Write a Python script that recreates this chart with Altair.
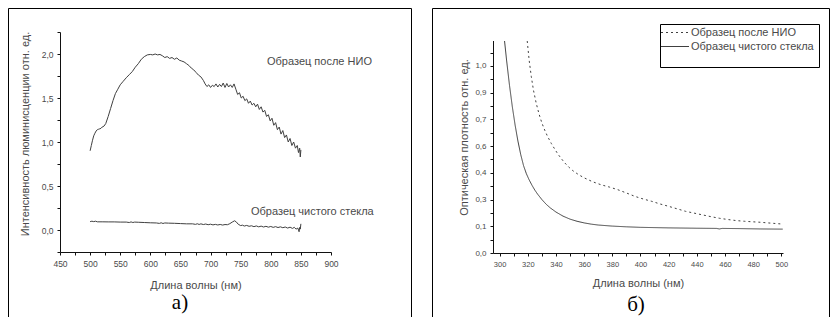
import altair as alt
import pandas as pd

FONT = "Liberation Sans"
SERIF = "Liberation Serif"
INK = "#404040"
TXT = "#4a4a4a"

series_names = ["Образец после НИО", "Образец чистого стекла"]

# ---------------- panel а) : luminescence ----------------
lum_after_nm = [500, 502, 504, 506, 508, 510, 512, 514, 516, 518, 520, 523, 526, 530, 534, 538, 542, 546, 550,
                555, 560, 565, 570, 575, 580, 585, 590, 595, 600, 604, 608, 612, 616, 620, 624, 628, 632, 636,
                640, 644, 648, 652, 656, 660, 664, 668, 672, 676, 680, 684, 688, 691, 694, 697, 700, 703, 706,
                709, 712, 715, 718, 721, 724, 727, 730, 733, 736, 739, 742, 745, 748, 751, 754, 757, 760, 763,
                766, 769, 772, 775, 778, 781, 784, 787, 790, 793, 796, 799, 802, 805, 808, 811, 814, 817, 820,
                823, 826, 829, 832, 835, 838, 841, 844, 846, 848, 849, 850]
lum_after_val = [0.90, 0.96, 1.02, 1.07, 1.10, 1.125, 1.14, 1.145, 1.15, 1.155, 1.17, 1.18, 1.21, 1.29, 1.38,
                 1.47, 1.55, 1.60, 1.65, 1.69, 1.73, 1.765, 1.80, 1.85, 1.89, 1.94, 1.97, 1.99, 1.995, 1.99,
                 2.00, 1.99, 1.995, 1.98, 1.96, 1.97, 1.95, 1.96, 1.94, 1.955, 1.93, 1.92, 1.91, 1.89, 1.87,
                 1.84, 1.82, 1.79, 1.76, 1.74, 1.70, 1.66, 1.63, 1.65, 1.62, 1.645, 1.63, 1.66, 1.625, 1.655,
                 1.63, 1.67, 1.62, 1.665, 1.625, 1.65, 1.62, 1.66, 1.60, 1.54, 1.56, 1.50, 1.52, 1.47, 1.49,
                 1.44, 1.465, 1.42, 1.44, 1.40, 1.43, 1.37, 1.40, 1.34, 1.36, 1.29, 1.31, 1.24, 1.27, 1.19,
                 1.22, 1.14, 1.17, 1.09, 1.13, 1.05, 1.08, 1.00, 1.04, 0.96, 1.00, 0.93, 0.96, 0.88, 0.93,
                 0.83, 0.91]

lum_glass_nm = [500, 503, 506, 509, 512, 520, 530, 540, 550, 560, 565, 568, 571, 574, 580, 590, 600, 610, 615,
                618, 621, 624, 630, 640, 650, 660, 670, 675, 678, 681, 684, 688, 692, 696, 700, 704, 708, 712,
                716, 720, 724, 728, 732, 736, 740, 743, 746, 750, 753, 756, 760, 764, 768, 772, 776, 780, 784,
                788, 792, 796, 800, 804, 808, 812, 816, 820, 824, 828, 832, 836, 839, 842, 845, 847, 848, 849,
                850]
lum_glass_val = [0.095, 0.10, 0.095, 0.10, 0.093, 0.093, 0.092, 0.092, 0.090, 0.090, 0.085, 0.092, 0.085,
                 0.090, 0.088, 0.085, 0.082, 0.080, 0.075, 0.082, 0.074, 0.080, 0.078, 0.076, 0.073, 0.070,
                 0.070, 0.064, 0.071, 0.063, 0.070, 0.062, 0.068, 0.060, 0.066, 0.058, 0.064, 0.057, 0.063,
                 0.056, 0.062, 0.060, 0.072, 0.090, 0.105, 0.090, 0.065, 0.050, 0.055, 0.045, 0.052, 0.042,
                 0.048, 0.038, 0.046, 0.036, 0.044, 0.034, 0.042, 0.032, 0.040, 0.030, 0.038, 0.028, 0.036,
                 0.026, 0.034, 0.022, 0.032, 0.018, 0.030, 0.010, 0.022, -0.020, 0.030, 0.010, 0.070]

lum_x_ticks = [450, 475, 500, 525, 550, 575, 600, 625, 650, 675, 700, 725, 750, 775, 800, 825, 850, 875, 900]
lum_y_ticks = [-0.25, 0.0, 0.25, 0.5, 0.75, 1.0, 1.25, 1.5, 1.75, 2.0, 2.25]

# ---------------- panel б) : optical density ----------------
abs_after_nm = [319.6, 321, 322.5, 324, 326, 328, 330, 332, 334, 336.7, 339, 341.4, 344, 346, 349, 352, 356,
                360, 366, 372, 378, 384, 390, 396, 402, 408, 414, 420, 426, 432, 438, 444, 450, 456, 462, 468,
                474, 480, 486, 492, 500]
abs_after_val = [1.19, 1.08, 0.99, 0.915, 0.84, 0.78, 0.73, 0.69, 0.655, 0.615, 0.585, 0.555, 0.528, 0.508,
                 0.483, 0.462, 0.44, 0.422, 0.40, 0.383, 0.37, 0.355, 0.337, 0.318, 0.303, 0.29, 0.275, 0.262,
                 0.248, 0.234, 0.224, 0.214, 0.204, 0.195, 0.188, 0.182, 0.178, 0.175, 0.172, 0.168, 0.163]

abs_glass_nm = [303.5, 305, 307, 309, 311, 313, 315, 317, 319, 321, 323, 325, 327, 330, 333, 336, 340, 345, 350,
                355, 360, 365, 370, 380, 390, 400, 420, 440, 454, 456, 458, 470, 485, 501]
abs_glass_val = [1.19, 1.078, 0.942, 0.822, 0.718, 0.628, 0.552, 0.49, 0.445, 0.41, 0.38, 0.353, 0.33, 0.30,
                 0.274, 0.253, 0.23, 0.207, 0.19, 0.178, 0.169, 0.162, 0.157, 0.151, 0.147, 0.144, 0.141,
                 0.139, 0.138, 0.135, 0.138, 0.137, 0.135, 0.134]

abs_x_ticks = [300, 310, 320, 330, 340, 350, 360, 370, 380, 390, 400, 410, 420, 430, 440, 450, 460, 470, 480,
               490, 500]
abs_y_ticks = [0.0, 0.075, 0.15, 0.225, 0.3, 0.375, 0.45, 0.525, 0.6, 0.675, 0.75, 0.825, 0.9, 0.975, 1.05,
               1.125]
abs_y_major = [0.0, 0.15, 0.3, 0.45, 0.6, 0.75, 0.9, 1.05]

# ---------------- tables ----------------
df_lum = pd.concat([
    pd.DataFrame({"nm": lum_after_nm, "val": lum_after_val, "series": series_names[0]}),
    pd.DataFrame({"nm": lum_glass_nm, "val": lum_glass_val, "series": series_names[1]}),
], ignore_index=True)
df_abs = pd.concat([
    pd.DataFrame({"nm": abs_after_nm, "val": abs_after_val, "series": series_names[0]}),
    pd.DataFrame({"nm": abs_glass_nm, "val": abs_glass_val, "series": series_names[1]}),
], ignore_index=True)
dummy = pd.DataFrame({"k": [0]})

axis_common = dict(grid=False, domainColor="#111", tickColor="#111", tickSize=3, labelFont=FONT,
                   titleFont=FONT, labelColor=TXT, titleColor=TXT, titleFontWeight="normal",
                   labelPadding=4, titleFontSize=11, labelOverlap=False, labelBound=False, labelFlush=False)

def border(xl, xr, yt, yb):
    b = alt.Chart(dummy)
    return [
        b.mark_rule(color="#000", strokeWidth=1).encode(x=alt.value(xl), y=alt.value(yt), y2=alt.value(yb)),
        b.mark_rule(color="#000", strokeWidth=1).encode(x=alt.value(xr), y=alt.value(yt), y2=alt.value(yb)),
        b.mark_rule(color="#000", strokeWidth=1).encode(x=alt.value(xl), x2=alt.value(xr), y=alt.value(yt)),
    ]

def label(text, x, y, size=11, font=FONT, color=TXT, align="left"):
    return alt.Chart(dummy).mark_text(text=text, align=align, baseline="middle", font=font,
                                      fontSize=size, color=color).encode(x=alt.value(x), y=alt.value(y))

# ---------------- left panel (plot area 271 x 220) ----------------
lx = alt.X("nm:Q", scale=alt.Scale(domain=[450, 900], nice=False, zero=False),
           axis=alt.Axis(values=lum_x_ticks, format="d", labelFontSize=8.5,
                         labelExpr="datum.value % 50 == 0 ? datum.label : ''",
                         title="Длина волны (нм)", titleY=33, titleBaseline="middle", **axis_common))
ly = alt.Y("val:Q", scale=alt.Scale(domain=[-0.25, 2.25], nice=False, zero=False),
           axis=alt.Axis(values=lum_y_ticks, labelFontSize=8.5,
                         labelExpr="datum.value % 0.5 == 0 ? replace(format(datum.value, '.1f'), '.', ',') : ''",
                         title="Интенсивность люминисценции отн. ед.", titleX=-35, titleY=101.5,
                         titleAngle=270, titleAlign="center", titleBaseline="middle", **axis_common))

left_lines = alt.Chart(df_lum).mark_line(color=INK, strokeWidth=1).encode(x=lx, y=ly, detail="series:N")

left = alt.layer(
    *border(-51.5, 351.5, -23.5, 285),
    left_lines,
    label(series_names[0], 207, 30),
    label(series_names[1], 191, 180),
    label("а)", 120, 271, size=21, font=SERIF, color="#000", align="center"),
).properties(width=271, height=220)

# ---------------- right panel (plot area 290 x 221, axis drawn from 1.19 down) ----------------
R_H = 221
R_TOP = 1.19 * R_H / 212.0
rx = alt.X("nm:Q", scale=alt.Scale(domain=[295.3, 501.2], nice=False, zero=False),
           axis=alt.Axis(values=abs_x_ticks, format="d", labelFontSize=7.5,
                         labelExpr="datum.value % 20 == 0 ? datum.label : ''",
                         title="Длина волны (нм)", titleY=30, titleBaseline="middle", **axis_common))
major_js = "[" + ",".join(str(v) for v in abs_y_major) + "]"
ry = alt.Y("val:Q", scale=alt.Scale(domain=[0, R_TOP], nice=False, zero=False),
           axis=alt.Axis(values=abs_y_ticks, labelFontSize=8, domain=False,
                         labelExpr="indexof(" + major_js + ", datum.value) >= 0 ? replace(format(floor(datum.value * 10 + 0.0001) / 10, '.1f'), '.', ',') : ''",
                         title="Оптическая плотность отн. ед.", titleX=-29, titleY=105,
                         titleAngle=270, titleAlign="center", titleBaseline="middle", **axis_common))

right_lines = alt.Chart(df_abs).mark_line(color=INK, strokeWidth=1, clip=True).encode(
    x=rx, y=ry,
    strokeDash=alt.StrokeDash("series:N", scale=alt.Scale(domain=series_names, range=[[2, 3], [1, 0]]),
                              legend=None))

lg = alt.Chart(dummy)
y_axis_line = lg.mark_rule(color="#111", strokeWidth=1).encode(
    x=alt.value(0.5), y=alt.value(9), y2=alt.value(221.5))
legend_box = lg.mark_rect(fill="white", stroke="#000", strokeWidth=1).encode(
    x=alt.value(167.5), x2=alt.value(326.5), y=alt.value(-7.5), y2=alt.value(35.5))
legend_sym1 = lg.mark_rule(color=INK, strokeWidth=1, strokeDash=[2, 3]).encode(
    x=alt.value(168), x2=alt.value(196), y=alt.value(0.5))
legend_sym2 = lg.mark_rule(color=INK, strokeWidth=1).encode(
    x=alt.value(168), x2=alt.value(196), y=alt.value(14.5))

right = alt.layer(
    *border(-60.5, 336.5, -23.5, 285),
    y_axis_line, right_lines, legend_box, legend_sym1, legend_sym2,
    label(series_names[0], 198, 0.5),
    label(series_names[1], 198, 14.5),
    label("б)", 143, 273, size=21, font=SERIF, color="#000", align="center"),
).properties(width=290, height=R_H)

chart = alt.hconcat(left, right, spacing=20).properties(padding=0, background="white").configure_view(
    stroke=None)

chart.save("out.html", embed_options={"renderer": "svg", "actions": False})
